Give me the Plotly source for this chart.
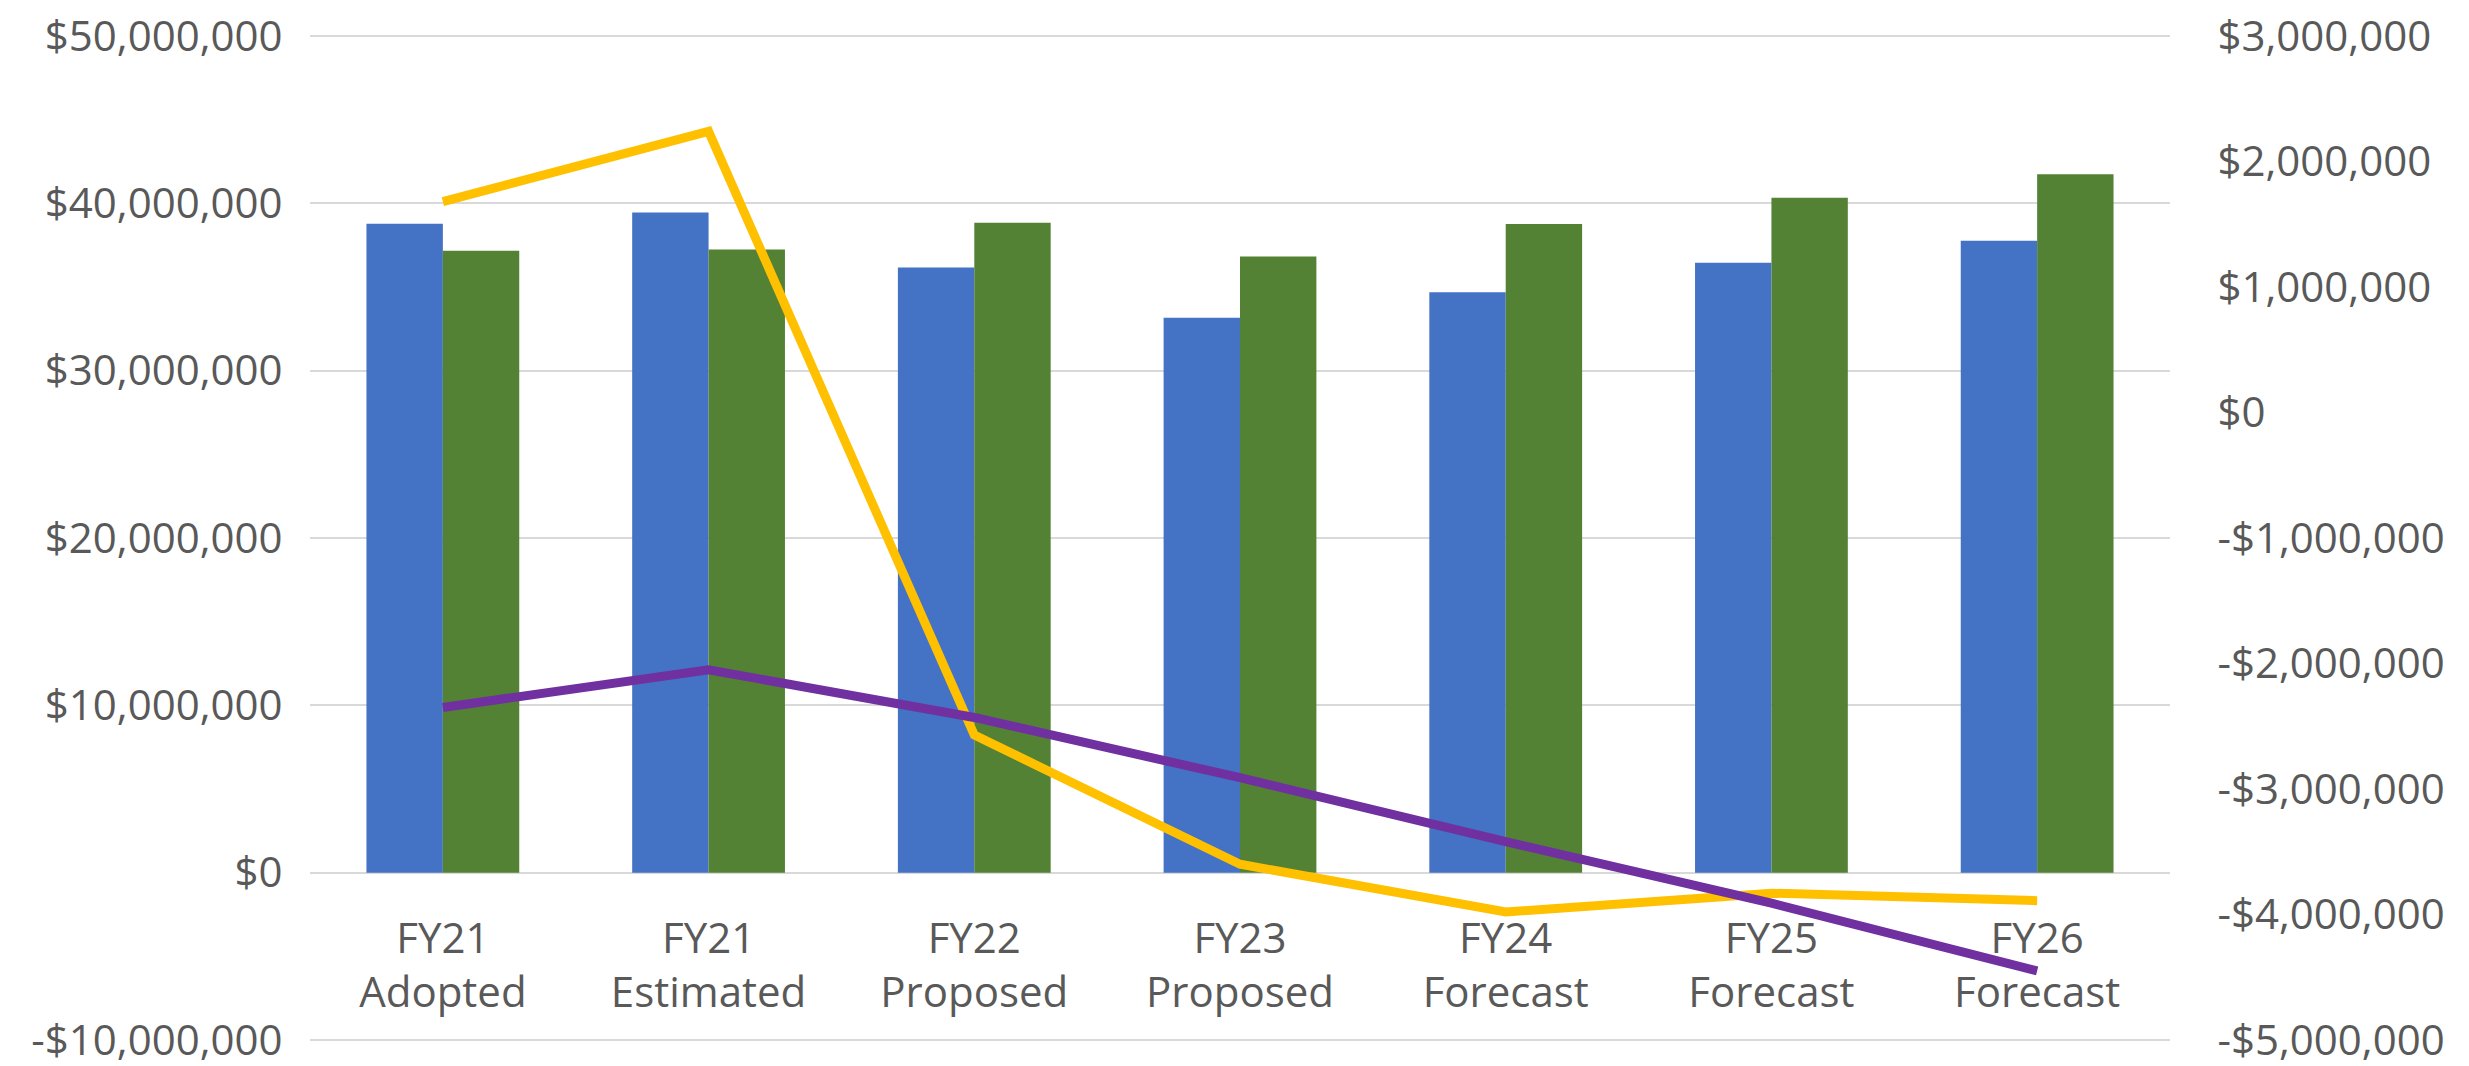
import plotly.graph_objects as go

categories = ["FY21<br>Adopted", "FY21<br>Estimated", "FY22<br>Proposed", "FY23<br>Proposed",
              "FY24<br>Forecast", "FY25<br>Forecast", "FY26<br>Forecast"]

revenues = [38780000, 39450000, 36170000, 33160000, 34690000, 36450000, 37770000]
expenditures = [37160000, 37240000, 38840000, 36820000, 38760000, 40340000, 41740000]
net_change = [1680000, 2240000, -2570000, -3600000, -3980000, -3830000, -3890000]
fund_balance = [-2350000, -2050000, -2430000, -2910000, -3420000, -3910000, -4450000]

left_tickvals = [-10000000, 0, 10000000, 20000000, 30000000, 40000000, 50000000]
left_ticktext = ["-$10,000,000", "$0", "$10,000,000", "$20,000,000", "$30,000,000",
                 "$40,000,000", "$50,000,000"]
right_tickvals = [-5000000, -4000000, -3000000, -2000000, -1000000, 0, 1000000, 2000000, 3000000]
right_ticktext = ["-$5,000,000", "-$4,000,000", "-$3,000,000", "-$2,000,000", "-$1,000,000",
                  "$0", "$1,000,000", "$2,000,000", "$3,000,000"]

FONT = "Open Sans"
GRAY = "#595959"

fig = go.Figure()
fig.add_trace(go.Bar(x=categories, y=revenues, name="Revenues", marker_color="#4472C4",
                     marker_line_width=0, yaxis="y"))
fig.add_trace(go.Bar(x=categories, y=expenditures, name="Expenditures", marker_color="#548235",
                     marker_line_width=0, yaxis="y"))
fig.add_trace(go.Scatter(x=categories, y=net_change, name="Net Change", mode="lines",
                         line=dict(color="#FFC000", width=9), yaxis="y2"))
fig.add_trace(go.Scatter(x=categories, y=fund_balance, name="Fund Balance", mode="lines",
                         line=dict(color="#7030A0", width=9), yaxis="y2"))

fig.update_layout(
    width=2469, height=1066,
    margin=dict(l=302, r=307, t=24, b=30, autoexpand=False),
    paper_bgcolor="white", plot_bgcolor="white",
    barmode="group", bargap=0.425, bargroupgap=0,
    showlegend=False,
    font=dict(family=FONT, size=42, color=GRAY),
    xaxis=dict(
        anchor="free", position=1/6, automargin=False,
        showgrid=False, showline=False, zeroline=False,
        ticks="outside", ticklen=26, tickcolor="rgba(0,0,0,0)",
        tickfont=dict(family=FONT, size=42, color=GRAY),
    ),
    yaxis=dict(
        range=[-10240000, 50240000], automargin=False,
        tickvals=left_tickvals, ticktext=left_ticktext, ticklabeloverflow="allow",
        showgrid=True, gridcolor="#D9D9D9", gridwidth=2,
        zeroline=False, showline=False,
        ticks="outside", ticklen=18, tickcolor="rgba(0,0,0,0)",
        tickfont=dict(family=FONT, size=42, color=GRAY),
    ),
    yaxis2=dict(
        range=[-5032000, 3032000], overlaying="y", side="right", automargin=False,
        tickvals=right_tickvals, ticktext=right_ticktext, ticklabeloverflow="allow",
        showgrid=False, zeroline=False, showline=False,
        ticks="outside", ticklen=38, tickcolor="rgba(0,0,0,0)",
        tickfont=dict(family=FONT, size=42, color=GRAY),
    ),
)

fig.write_html("out.html")
